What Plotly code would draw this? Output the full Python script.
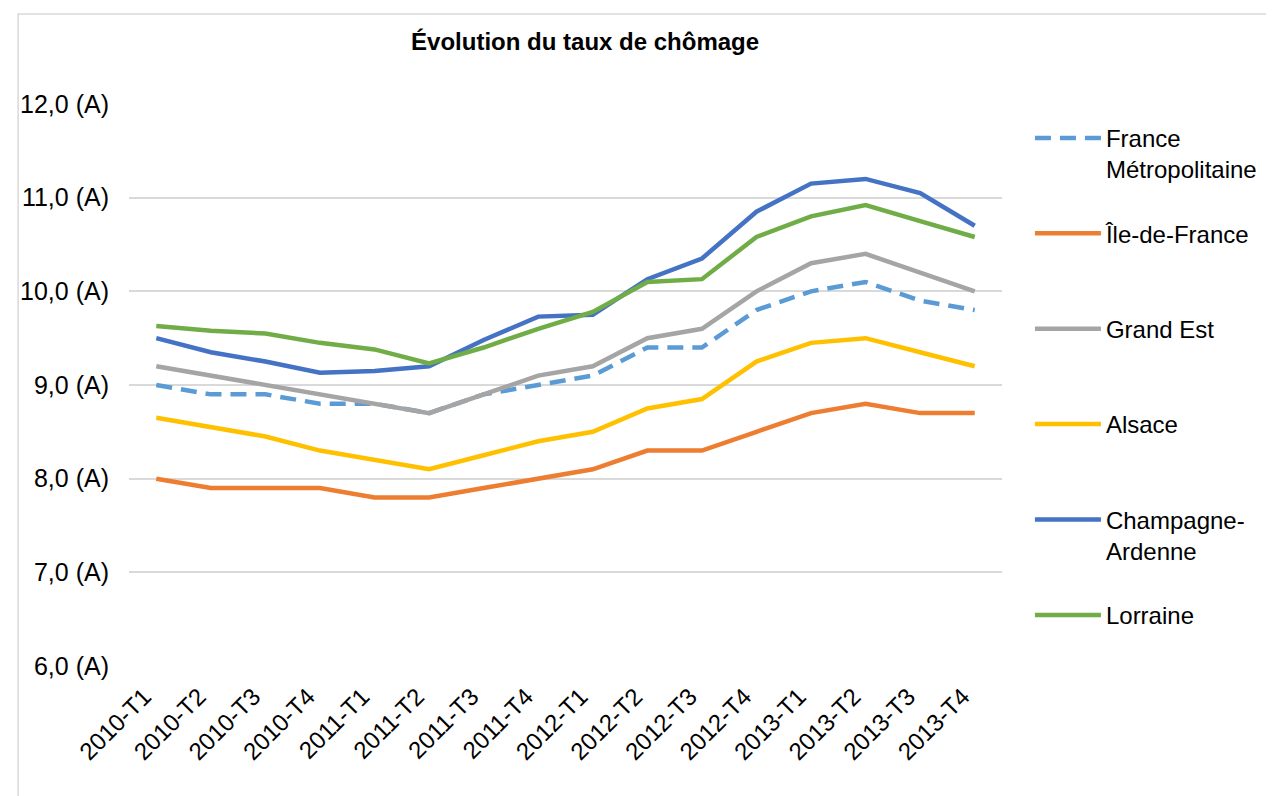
import plotly.graph_objects as go

categories = ["2010-T1", "2010-T2", "2010-T3", "2010-T4",
              "2011-T1", "2011-T2", "2011-T3", "2011-T4",
              "2012-T1", "2012-T2", "2012-T3", "2012-T4",
              "2013-T1", "2013-T2", "2013-T3", "2013-T4"]

france_metro = [9.0, 8.9, 8.9, 8.8, 8.8, 8.7, 8.9, 9.0, 9.1, 9.4, 9.4, 9.8, 10.0, 10.1, 9.9, 9.8]
ile_de_france = [8.0, 7.9, 7.9, 7.9, 7.8, 7.8, 7.9, 8.0, 8.1, 8.3, 8.3, 8.5, 8.7, 8.8, 8.7, 8.7]
grand_est = [9.2, 9.1, 9.0, 8.9, 8.8, 8.7, 8.9, 9.1, 9.2, 9.5, 9.6, 10.0, 10.3, 10.4, 10.2, 10.0]
alsace = [8.65, 8.55, 8.45, 8.3, 8.2, 8.1, 8.25, 8.4, 8.5, 8.75, 8.85, 9.25, 9.45, 9.5, 9.35, 9.2]
champagne = [9.5, 9.35, 9.25, 9.13, 9.15, 9.2, 9.48, 9.73, 9.75, 10.13, 10.35, 10.85, 11.15, 11.2, 11.05, 10.7]
lorraine = [9.63, 9.58, 9.55, 9.45, 9.38, 9.23, 9.4, 9.6, 9.78, 10.1, 10.13, 10.58, 10.8, 10.92, 10.75, 10.58]

y_ticks = [6, 7, 8, 9, 10, 11, 12]
y_ticktext = ["6,0 (A)", "7,0 (A)", "8,0 (A)", "9,0 (A)", "10,0 (A)", "11,0 (A)", "12,0 (A)"]

series = [
    ("France<br>Métropolitaine", france_metro, "#5B9BD5", "16px,9px"),
    ("Île-de-France<br>\u00a0", ile_de_france, "#ED7D31", "solid"),
    ("Grand Est<br>\u00a0", grand_est, "#A5A5A5", "solid"),
    ("Alsace<br>\u00a0", alsace, "#FFC000", "solid"),
    ("Champagne-<br>Ardenne", champagne, "#4472C4", "solid"),
    ("Lorraine<br>\u00a0", lorraine, "#70AD47", "solid"),
]

FONT = "Liberation Sans, Arial, sans-serif"

fig = go.Figure()
for i, (name, vals, color, dash) in enumerate(series):
    fig.add_trace(go.Scatter(
        x=categories, y=vals, name=name, mode="lines",
        line=dict(color=color, width=4.5, dash=dash),
        legendgroup=f"g{i}",
    ))

fig.update_layout(
    width=1274, height=796,
    margin=dict(l=112, r=280, t=96, b=138),
    paper_bgcolor="white", plot_bgcolor="white",
    font=dict(family=FONT, size=24, color="#000000"),
    title=dict(text="<b>Évolution du taux de chômage</b>",
               x=0.453, xref="container", xanchor="center",
               y=1 - 34 / 796, yref="container", yanchor="middle",
               font=dict(family=FONT, size=24, color="#000000")),
    legend=dict(x=1.032, xanchor="left", y=0.979, yanchor="top",
                traceorder="grouped", tracegroupgap=30, valign="top",
                itemwidth=66,
                font=dict(family=FONT, size=24, color="#000000"),
                bgcolor="rgba(0,0,0,0)"),
    showlegend=True,
)

fig.update_xaxes(
    type="category", range=[-0.5, 15.5],
    tickangle=-45, showgrid=False, showline=False,
    ticks="outside", ticklen=6, tickcolor="rgba(0,0,0,0)",
    tickfont=dict(family=FONT, size=24, color="#000000"),
    ticklabelshift=-12,
)
fig.update_yaxes(
    range=[6, 12], tickvals=y_ticks, ticktext=y_ticktext,
    showgrid=True, gridcolor="#D9D9D9", gridwidth=1.5,
    zeroline=False, showline=False,
    ticks="outside", ticklen=14, tickcolor="rgba(0,0,0,0)",
    tickfont=dict(family=FONT, size=25, color="#000000"),
)

fig.add_shape(type="rect", xref="paper", yref="paper",
              x0=-0.127, x1=1.32, y0=-0.25, y1=1.160,
              line=dict(color="#D9D9D9", width=1.5), fillcolor="rgba(0,0,0,0)",
              layer="below")

fig.write_html("out.html")
